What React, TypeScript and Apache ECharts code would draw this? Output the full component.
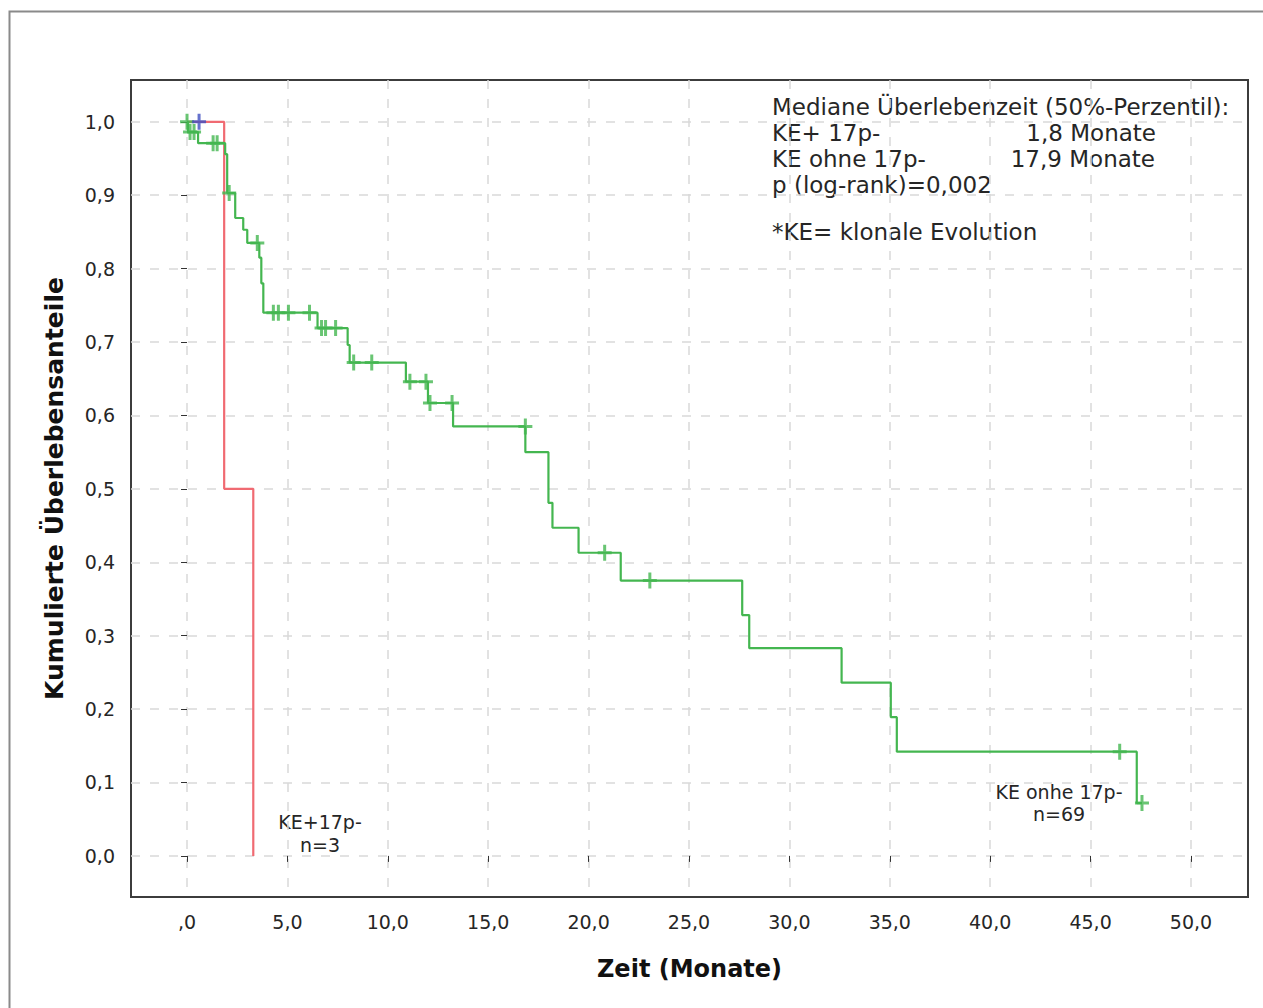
import React, { useEffect, useRef } from "react";
import * as echarts from "echarts";

// Kaplan-Meier steps (time in months, survival after step)
const greenTimes = [0, 0.05, 0.55, 1.9, 2.0, 2.4, 2.8, 3.0, 3.6, 3.7, 3.8, 6.5, 8.0, 8.1, 10.9, 12.0, 13.25, 16.85, 18.0, 18.2, 19.5, 21.6, 27.65, 28.0, 32.6, 35.05, 35.35, 47.3, 47.56];
const greenSurv = [1.0, 0.986, 0.971, 0.956, 0.903, 0.869, 0.853, 0.835, 0.815, 0.78, 0.740, 0.719, 0.696, 0.672, 0.646, 0.617, 0.585, 0.550, 0.481, 0.447, 0.413, 0.375, 0.328, 0.283, 0.236, 0.189, 0.142, 0.072, 0.072];
const greenCensorTimes = [0, 0.15, 0.35, 1.3, 1.5, 2.1, 3.5, 4.3, 4.55, 5.05, 6.1, 6.7, 6.9, 7.4, 8.3, 9.2, 11.1, 11.9, 12.1, 13.2, 16.85, 20.8, 23.05, 46.45, 47.56];
const greenCensorSurv = [1.0, 0.986, 0.986, 0.971, 0.971, 0.903, 0.835, 0.740, 0.740, 0.740, 0.740, 0.719, 0.719, 0.719, 0.672, 0.672, 0.646, 0.646, 0.617, 0.617, 0.585, 0.413, 0.375, 0.142, 0.072];

const redTimes = [0, 1.85, 3.3];
const redSurv = [1.0, 0.5, 0.0];
const blueCensorTimes = [0.6];
const blueCensorSurv = [1.0];

const xTicks = [0, 5, 10, 15, 20, 25, 30, 35, 40, 45, 50];
const xTickLabels = [",0", "5,0", "10,0", "15,0", "20,0", "25,0", "30,0", "35,0", "40,0", "45,0", "50,0"];
const yTicks = [0, 0.1, 0.2, 0.3, 0.4, 0.5, 0.6, 0.7, 0.8, 0.9, 1.0];
const yTickLabels = ["0,0", "0,1", "0,2", "0,3", "0,4", "0,5", "0,6", "0,7", "0,8", "0,9", "1,0"];

const FONT = "'DejaVu Sans', 'Liberation Sans', Arial, sans-serif";
const PLUS = "path://M0,6.5 L14,6.5 L14,9.5 L0,9.5 Z M5.5,0 L8.5,0 L8.5,16 L5.5,16 Z";

export default function App() {
  const ref = useRef<HTMLDivElement>(null);
  useEffect(() => {
    if (!ref.current) return;
    const chart = echarts.init(ref.current, null, { renderer: "svg" });
    const zip = (a: number[], b: number[]) => a.map((v, i) => [v, b[i]]);
    const gridLine = { show: true, lineStyle: { color: "#d9d9d9", width: 1.5, type: [9, 10] as any } };
    const txt = (s: string, size: number) => ({ text: s, fontSize: size, fontFamily: FONT, fill: "#262626" });
    chart.setOption({
      animation: false,
      backgroundColor: "#fff",
      textStyle: { fontFamily: FONT },
      grid: { left: 131, top: 80, right: 15, bottom: 111, show: true, borderColor: "#3c3c3c", borderWidth: 2, backgroundColor: "transparent" },
      xAxis: {
        type: "value",
        min: -2.79,
        max: 52.84,
        name: "Zeit (Monate)",
        nameLocation: "middle",
        nameGap: 60,
        nameTextStyle: { fontSize: 24, fontWeight: "bold", color: "#111", fontFamily: FONT },
        axisLine: { show: false },
        axisTick: { show: true, length: 6, customValues: xTicks, lineStyle: { color: "#333" } },
        axisLabel: {
          customValues: xTicks,
          fontSize: 19,
          color: "#262626",
          margin: 15,
          fontFamily: FONT,
          formatter: (v: number) => xTickLabels[xTicks.indexOf(v)] ?? "",
        },
        splitLine: gridLine,
      },
      yAxis: {
        type: "value",
        min: -0.056,
        max: 1.057,
        name: "Kumulierte Überlebensanteile",
        nameLocation: "middle",
        nameGap: 64,
        nameTextStyle: { fontSize: 25, fontWeight: "bold", color: "#111", fontFamily: FONT },
        axisLine: { show: false },
        axisTick: { show: true, length: 6, customValues: yTicks, lineStyle: { color: "#333" } },
        axisLabel: {
          customValues: yTicks,
          fontSize: 19,
          color: "#262626",
          margin: 16,
          fontFamily: FONT,
          formatter: (v: number) => {
            const i = yTicks.findIndex((t) => Math.abs(t - v) < 1e-6);
            return i >= 0 ? yTickLabels[i] : "";
          },
        },
        splitLine: gridLine,
      },
      series: [
        {
          name: "KE+17p-",
          type: "line",
          step: "end",
          data: zip(redTimes, redSurv),
          symbol: "none",
          lineStyle: { color: "#f06a72", width: 2.2 },
          z: 2,
        },
        {
          name: "KE ohne 17p-",
          type: "line",
          step: "end",
          data: zip(greenTimes, greenSurv),
          symbol: "none",
          lineStyle: { color: "#44b650", width: 2.2 },
          z: 3,
        },
        {
          name: "KE ohne 17p- zensiert",
          type: "scatter",
          data: zip(greenCensorTimes, greenCensorSurv),
          symbol: PLUS,
          symbolSize: [14, 16],
          itemStyle: { color: "#44b650" },
          z: 4,
        },
        {
          name: "KE+17p- zensiert",
          type: "scatter",
          data: zip(blueCensorTimes, blueCensorSurv),
          symbol: PLUS,
          symbolSize: [14, 16],
          itemStyle: { color: "#3f4fc0" },
          z: 5,
        },
      ],
      graphic: [
        { type: "rect", left: 7, top: 9, shape: { width: 1262, height: 1005 }, style: { fill: "none", stroke: "#8a8a8a", lineWidth: 2 }, silent: true },
        { type: "text", left: 772, top: 95, style: txt("Mediane Überlebenzeit (50%-Perzentil):", 23) },
        { type: "text", left: 772, top: 121, style: txt("KE+ 17p-", 23) },
        { type: "text", right: 1263 - 1156, top: 121, style: txt("1,8 Monate", 23) },
        { type: "text", left: 772, top: 147, style: txt("KE ohne 17p-", 23) },
        { type: "text", right: 1263 - 1155, top: 147, style: txt("17,9 Monate", 23) },
        { type: "text", left: 772, top: 173, style: txt("p (log-rank)=0,002", 23) },
        { type: "text", left: 772, top: 220, style: txt("*KE= klonale Evolution", 23) },
        { type: "text", x: 320, y: 822, style: { ...txt("KE+17p-", 19), align: "center", verticalAlign: "middle" } },
        { type: "text", x: 320, y: 845, style: { ...txt("n=3", 19), align: "center", verticalAlign: "middle" } },
        { type: "text", x: 1059, y: 792, style: { ...txt("KE onhe 17p-", 19), align: "center", verticalAlign: "middle" } },
        { type: "text", x: 1059, y: 814, style: { ...txt("n=69", 19), align: "center", verticalAlign: "middle" } },
      ],
    });
    return () => chart.dispose();
  }, []);
  return <div ref={ref} style={{ position: "absolute", left: 0, top: 0, width: 1263, height: 1008 }} />;
}
